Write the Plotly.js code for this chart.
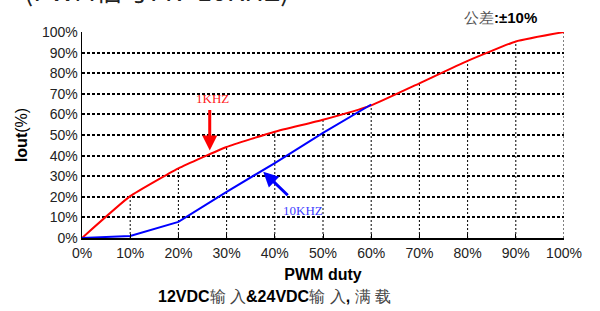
<!DOCTYPE html>
<html>
<head>
<meta charset="utf-8">
<script src="https://cdn.plot.ly/plotly-3.0.1.min.js"></script>
<style>html,body{margin:0;padding:0;background:#fff;}#chart{width:600px;height:311px;}</style>
</head>
<body>
<div id="chart"></div>
<script>
// PWM duty (%)
const duty = [0, 10, 20, 30, 40, 50, 60, 70, 80, 90, 100];
// Iout (%) at 1KHZ
const iout1k = [0, 20.3, 33.8, 44.2, 51.6, 57.4, 64.4, 75.1, 86, 95.4, 100];
// Iout (%) at 10KHZ
const duty10k = [0, 10, 20, 30, 40, 50, 60];
const iout10k = [0, 1, 7.8, 22.4, 36.4, 51, 64.8];
const tickVals = [0, 10, 20, 30, 40, 50, 60, 70, 80, 90, 100];
const tickText = tickVals.map(v => v + '%');

// drop lines from axis up to the 1KHZ curve
const dropX = [], dropY = [];
duty.forEach((d, i) => { if (i > 0) { dropX.push(d, d, null); dropY.push(0, iout1k[i], null); } });

const font = 'Liberation Sans, Arial, sans-serif';
const serif = 'Liberation Serif, DejaVu Serif, serif';
const cjk = 'Noto Sans CJK SC, sans-serif';

const traces = [
  {x: dropX, y: dropY, mode: 'lines', line: {color: '#000', width: 1, dash: '2px,2px'}, hoverinfo: 'skip', showlegend: false},
  {x: duty, y: iout1k, mode: 'lines', line: {color: '#ff0000', width: 2, shape: 'spline', smoothing: 0.4}, showlegend: false},
  {x: duty10k, y: iout10k, mode: 'lines', line: {color: '#0000ff', width: 2}, showlegend: false}
];

const layout = {
  width: 600, height: 311,
  margin: {l: 82, r: 36, t: 32, b: 73},
  paper_bgcolor: '#fff', plot_bgcolor: '#fff',
  font: {family: font, size: 14, color: '#000'},
  xaxis: {
    range: [0, 100], tickvals: tickVals, ticktext: tickText,
    showgrid: false, zeroline: false,
    showline: true, linecolor: '#000', linewidth: 1.5,
    ticks: 'inside', ticklen: 4, tickcolor: '#000', tickwidth: 1,
    ticklabelstandoff: 2,
    tickfont: {family: font, size: 14, color: '#222'},
    title: {text: '<b>PWM duty</b>', font: {family: font, size: 16, color: '#000'}, standoff: 8}
  },
  yaxis: {
    range: [0, 100], tickvals: tickVals, ticktext: tickText,
    showgrid: true, gridcolor: '#000', gridwidth: 2, griddash: '3px,2px',
    zeroline: false,
    showline: true, linecolor: '#000', linewidth: 1.5,
    ticks: '',
    tickfont: {family: font, size: 14, color: '#222'},
    title: {text: '<b>Iout</b>(%)', font: {family: font, size: 16, color: '#000'}, standoff: 10}
  },
  annotations: [
    {xref: 'paper', yref: 'paper', x: 0.155, y: 1.10, xanchor: 'center', yanchor: 'bottom', showarrow: false,
     text: '(PWM信号FR=10KHZ)', font: {family: cjk, size: 27, color: '#222'}},
    {xref: 'paper', yref: 'paper', x: 0.948, y: 1.02, xanchor: 'right', yanchor: 'bottom', showarrow: false,
     text: '<span style="color:#555">公差</span><b>:±10%</b>', font: {family: font, size: 15, color: '#000'}},
    {xref: 'x', yref: 'y', x: 27, y: 67.5, showarrow: false, text: '1KHZ',
     font: {family: serif, size: 13, color: '#ff2020'}},
    {xref: 'x', yref: 'y', x: 26.5, y: 42.5, ax: 0, ay: -42, showarrow: true, text: '',
     arrowhead: 2, arrowsize: 1, arrowwidth: 3, arrowcolor: '#ff0000'},
    {xref: 'x', yref: 'y', x: 45.8, y: 13.5, showarrow: false, text: '10KHZ',
     font: {family: serif, size: 13, color: '#4040ff'}},
    {xref: 'x', yref: 'y', x: 37.6, y: 32.2, ax: 26, ay: 25, showarrow: true, text: '',
     arrowhead: 2, arrowsize: 1, arrowwidth: 3, arrowcolor: '#0000ff'},
    {xref: 'paper', yref: 'paper', x: 0.40, y: -0.235, xanchor: 'center', yanchor: 'top', showarrow: false,
     text: '<b>12VDC</b><span style="color:#444">输 入</span><b>&amp;24VDC</b><span style="color:#444">输 入</span><b>,</b> <span style="color:#444">满 载</span>',
     font: {family: font, size: 16, color: '#000'}}
  ]
};

Plotly.newPlot('chart', traces, layout, {displayModeBar: false, staticPlot: true});
</script>
</body>
</html>
